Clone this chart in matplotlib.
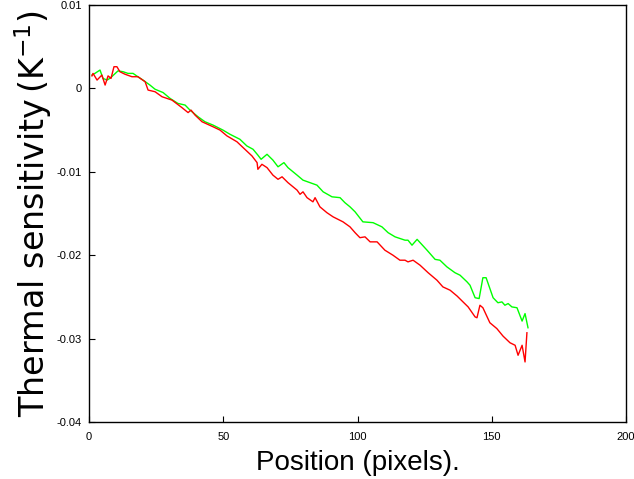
import matplotlib
matplotlib.use("Agg")
import matplotlib.pyplot as plt

# Green curve
green_x = [1.1, 2.2, 4.1, 5.2, 6.7, 7.8, 10.8, 12.7, 14.5, 16.4, 18.2, 20.1, 22.7, 24.6,
           27.6, 30.2, 33.1, 35.8, 37.6, 40.6, 43.2, 46.2, 49.9, 52.5, 56.2, 58.8, 61.1,
           62.9, 64.1, 66.3, 68.5, 70.4, 72.6, 74.1, 77.5, 79.7, 82.3, 84.9, 87.2, 90.5,
           93.5, 95.3, 97.2, 99.1, 102.0, 105.8, 109.1, 111.4, 114.0, 117.7, 118.8, 120.3,
           122.2, 125.9, 128.9, 130.7, 133.3, 136.3, 138.2, 140.8, 141.9, 143.8, 145.3,
           146.7, 147.9, 150.5, 152.3, 153.8, 154.9, 156.1, 157.5, 159.4, 161.3, 162.4, 163.5]
green_y = [0.0016, 0.0018, 0.0022, 0.0012, 0.0010, 0.0012, 0.0021, 0.0020, 0.0018, 0.0018,
           0.0014, 0.0010, 0.0004, -0.0001, -0.0005, -0.0012, -0.0018, -0.0020, -0.0026,
           -0.0034, -0.0040, -0.0044, -0.0050, -0.0055, -0.0061, -0.0069, -0.0073, -0.0080,
           -0.0085, -0.0079, -0.0086, -0.0094, -0.0089, -0.0095, -0.0104, -0.0110, -0.0113,
           -0.0116, -0.0124, -0.0130, -0.0131, -0.0137, -0.0142, -0.0148, -0.0160, -0.0161,
           -0.0166, -0.0173, -0.0178, -0.0182, -0.0182, -0.0188, -0.0181, -0.0194, -0.0205,
           -0.0206, -0.0214, -0.0221, -0.0224, -0.0232, -0.0236, -0.0251, -0.0252, -0.0227,
           -0.0227, -0.0251, -0.0257, -0.0256, -0.0260, -0.0258, -0.0262, -0.0263, -0.0279,
           -0.0270, -0.0287]

# Red curve
red_x = [1.1, 1.5, 3.0, 4.8, 6.0, 7.1, 8.2, 9.3, 10.4, 11.5, 13.4, 16.0, 18.2, 20.9, 22.0,
         24.6, 27.2, 30.9, 34.6, 36.9, 38.0, 39.5, 42.1, 46.2, 48.8, 51.4, 55.1, 57.4, 60.7,
         62.6, 62.9, 64.4, 66.3, 68.5, 70.4, 71.9, 74.1, 77.5, 78.6, 79.7, 81.2, 83.4, 84.2,
         86.0, 88.6, 90.9, 94.6, 97.2, 99.1, 100.9, 102.8, 104.7, 107.3, 110.2, 113.2, 115.8,
         117.7, 118.8, 120.7, 123.3, 126.3, 129.6, 131.8, 134.5, 137.1, 139.3, 141.2, 143.8,
         144.5, 145.6, 146.7, 149.3, 151.9, 154.2, 156.8, 158.7, 159.8, 161.3, 162.4, 163.1]
red_y = [0.0015, 0.0018, 0.0010, 0.0016, 0.0004, 0.0015, 0.0012, 0.0026, 0.0026, 0.0020,
         0.0017, 0.0014, 0.0014, 0.0008, -0.0002, -0.0004, -0.0010, -0.0014, -0.0023,
         -0.0029, -0.0026, -0.0032, -0.0040, -0.0046, -0.0050, -0.0057, -0.0064, -0.0071,
         -0.0081, -0.0089, -0.0097, -0.0091, -0.0095, -0.0104, -0.0109, -0.0106, -0.0113,
         -0.0122, -0.0127, -0.0124, -0.0131, -0.0136, -0.0131, -0.0142, -0.0149, -0.0154,
         -0.0160, -0.0166, -0.0173, -0.0179, -0.0178, -0.0184, -0.0184, -0.0194, -0.0200,
         -0.0206, -0.0206, -0.0208, -0.0206, -0.0212, -0.0221, -0.0230, -0.0238, -0.0242,
         -0.0249, -0.0256, -0.0262, -0.0274, -0.0275, -0.0260, -0.0263, -0.0281, -0.0288,
         -0.0297, -0.0305, -0.0308, -0.0320, -0.0308, -0.0328, -0.0293]

x_ticks = [0, 50, 100, 150, 200]
y_ticks = [-0.04, -0.03, -0.02, -0.01, 0, 0.01]
y_tick_labels = ["-0.04", "-0.03", "-0.02", "-0.01", "0", "0.01"]

fig = plt.figure(figsize=(6.34, 4.79), dpi=100)
ax = fig.add_axes([89 / 634, 57 / 479, 537 / 634, 417 / 479])

ax.plot(green_x, green_y, color="#00ff00", linewidth=1.0)
ax.plot(red_x, red_y, color="#ff0000", linewidth=1.0)

ax.set_xlim(0, 200)
ax.set_ylim(-0.04, 0.01)
ax.set_xticks(x_ticks)
ax.set_xticklabels([str(t) for t in x_ticks], family="Liberation Sans", fontsize=8)
ax.set_yticks(y_ticks)
ax.set_yticklabels(y_tick_labels, family="Liberation Sans", fontsize=8)
ax.tick_params(direction="in", length=4, width=0.8, top=False, right=False)
ax.tick_params(axis="x", pad=7)
ax.tick_params(axis="y", pad=5)

for s in ax.spines.values():
    s.set_linewidth(1.0)

ax.set_xlabel("Position (pixels).", family="Liberation Sans", fontsize=20, labelpad=6)
ax.set_ylabel(r"Thermal sensitivity$\,$(K$^{-1}$)", family="DejaVu Sans", fontsize=24,
              labelpad=2)

fig.savefig("out.png", dpi=100)
